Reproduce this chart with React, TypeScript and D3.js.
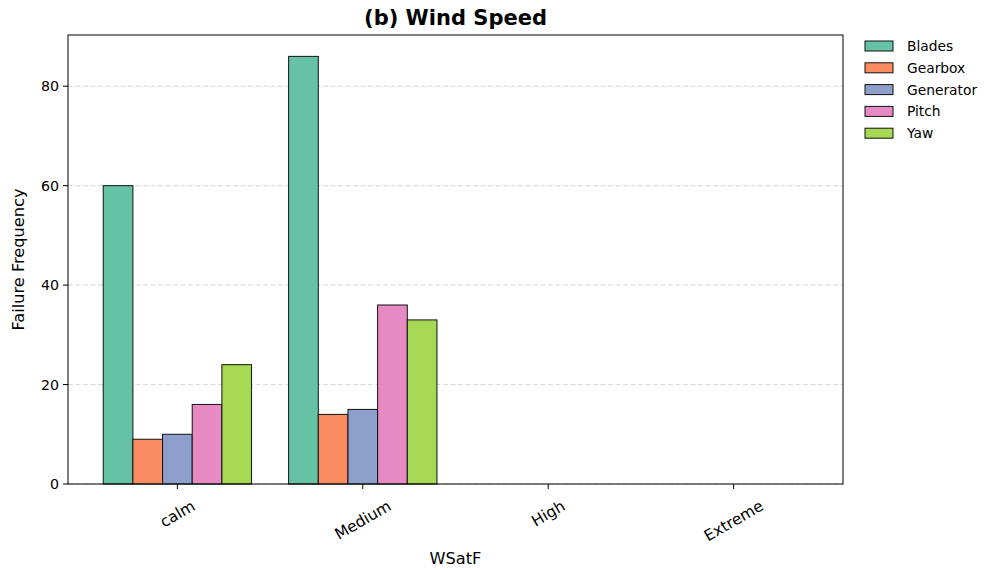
import React, { useEffect, useRef } from "react";
import * as d3 from "d3";

const categories = ["calm", "Medium", "High", "Extreme"];
const components = ["Blades", "Gearbox", "Generator", "Pitch", "Yaw"];
const colors = ["#66c2a5", "#fc8d62", "#8da0cb", "#e78ac3", "#a6d854"];
// failure counts per component, one entry per wind-speed category
const blades = [60, 86, 0, 0];
const gearbox = [9, 14, 0, 0];
const generator = [10, 15, 0, 0];
const pitch = [16, 36, 0, 0];
const yaw = [24, 33, 0, 0];
const yTicks = [0, 20, 40, 60, 80];

const W = 984;
const H = 570;
const M = { left: 68, right: 843, top: 35, bottom: 484 };
const FONT = "DejaVu Sans, sans-serif";

export default function App() {
  const ref = useRef<SVGSVGElement>(null);

  useEffect(() => {
    const svg = d3.select(ref.current);
    svg.selectAll("*").remove();

    const series = [blades, gearbox, generator, pitch, yaw];
    const n = series.length;
    const groupWidth = 0.8;
    const barW = groupWidth / n;
    const maxV = d3.max(series.flat()) as number;
    const span = categories.length - 1 + groupWidth;

    const x = d3
      .scaleLinear()
      .domain([-groupWidth / 2 - 0.05 * span, categories.length - 1 + groupWidth / 2 + 0.05 * span])
      .range([M.left, M.right]);
    const y = d3.scaleLinear().domain([0, maxV * 1.05]).range([M.bottom, M.top]);

    // grid
    svg
      .append("g")
      .selectAll("line")
      .data(yTicks)
      .join("line")
      .attr("x1", M.left)
      .attr("x2", M.right)
      .attr("y1", (d) => y(d))
      .attr("y2", (d) => y(d))
      .attr("stroke", "#b0b0b0")
      .attr("stroke-opacity", 0.5)
      .attr("stroke-dasharray", "5,2.5")
      .attr("stroke-width", 1);

    // bars
    series.forEach((vals, si) => {
      svg
        .append("g")
        .selectAll("rect")
        .data(vals)
        .join("rect")
        .attr("x", (_, i) => x(i - groupWidth / 2 + si * barW))
        .attr("width", x(barW) - x(0))
        .attr("y", (d) => y(d))
        .attr("height", (d) => y(0) - y(d))
        .attr("fill", colors[si])
        .attr("stroke", "#111")
        .attr("stroke-width", 1);
    });

    // frame
    svg
      .append("rect")
      .attr("x", M.left)
      .attr("y", M.top)
      .attr("width", M.right - M.left)
      .attr("height", M.bottom - M.top)
      .attr("fill", "none")
      .attr("stroke", "#000")
      .attr("stroke-width", 1);

    // y ticks
    const yg = svg.append("g");
    yTicks.forEach((t) => {
      yg.append("line")
        .attr("x1", M.left - 5)
        .attr("x2", M.left)
        .attr("y1", y(t))
        .attr("y2", y(t))
        .attr("stroke", "#000");
      yg.append("text")
        .attr("x", M.left - 9)
        .attr("y", y(t))
        .attr("dy", "0.36em")
        .attr("text-anchor", "end")
        .attr("font-family", FONT)
        .attr("font-size", 14.2)
        .text(String(t));
    });

    // x ticks with rotated labels
    const xg = svg.append("g");
    const xs = 15.5;
    categories.forEach((c, i) => {
      const cx = x(i);
      xg.append("line")
        .attr("x1", cx)
        .attr("x2", cx)
        .attr("y1", M.bottom)
        .attr("y2", M.bottom + 5)
        .attr("stroke", "#000");
      const t = xg
        .append("text")
        .attr("text-anchor", "middle")
        .attr("dy", "0.35em")
        .attr("font-family", FONT)
        .attr("font-size", xs)
        .text(c);
      const w = (t.node() as SVGTextElement).getComputedTextLength();
      const h = xs * 0.95;
      const a = Math.PI / 6;
      const bh = w * Math.sin(a) + h * Math.cos(a);
      const cy = 498 + bh / 2;
      t.attr("transform", `translate(${cx},${cy}) rotate(-30)`);
    });

    // axis titles
    svg
      .append("text")
      .attr("x", (M.left + M.right) / 2)
      .attr("y", 564)
      .attr("text-anchor", "middle")
      .attr("font-family", FONT)
      .attr("font-size", 16.2)
      .text("WSatF");
    svg
      .append("text")
      .attr("transform", `translate(24,${(M.top + M.bottom) / 2}) rotate(-90)`)
      .attr("text-anchor", "middle")
      .attr("font-family", FONT)
      .attr("font-size", 16.2)
      .text("Failure Frequency");
    svg
      .append("text")
      .attr("x", (M.left + M.right) / 2)
      .attr("y", 25)
      .attr("text-anchor", "middle")
      .attr("font-family", FONT)
      .attr("font-weight", "bold")
      .attr("font-size", 21)
      .text("(b) Wind Speed");

    // legend
    const lg = svg.append("g");
    components.forEach((name, i) => {
      const ly = 46 + i * 21.8;
      lg.append("rect")
        .attr("x", 865)
        .attr("y", ly - 5)
        .attr("width", 28)
        .attr("height", 10)
        .attr("fill", colors[i])
        .attr("stroke", "#111")
        .attr("stroke-width", 1);
      lg.append("text")
        .attr("x", 907)
        .attr("y", ly)
        .attr("dy", "0.36em")
        .attr("font-family", FONT)
        .attr("font-size", 13.8)
        .text(name);
    });
  }, []);

  return (
    <svg
      ref={ref}
      width={W}
      height={H}
      style={{ display: "block", background: "#fff", position: "absolute", left: 0, top: 0 }}
    />
  );
}
